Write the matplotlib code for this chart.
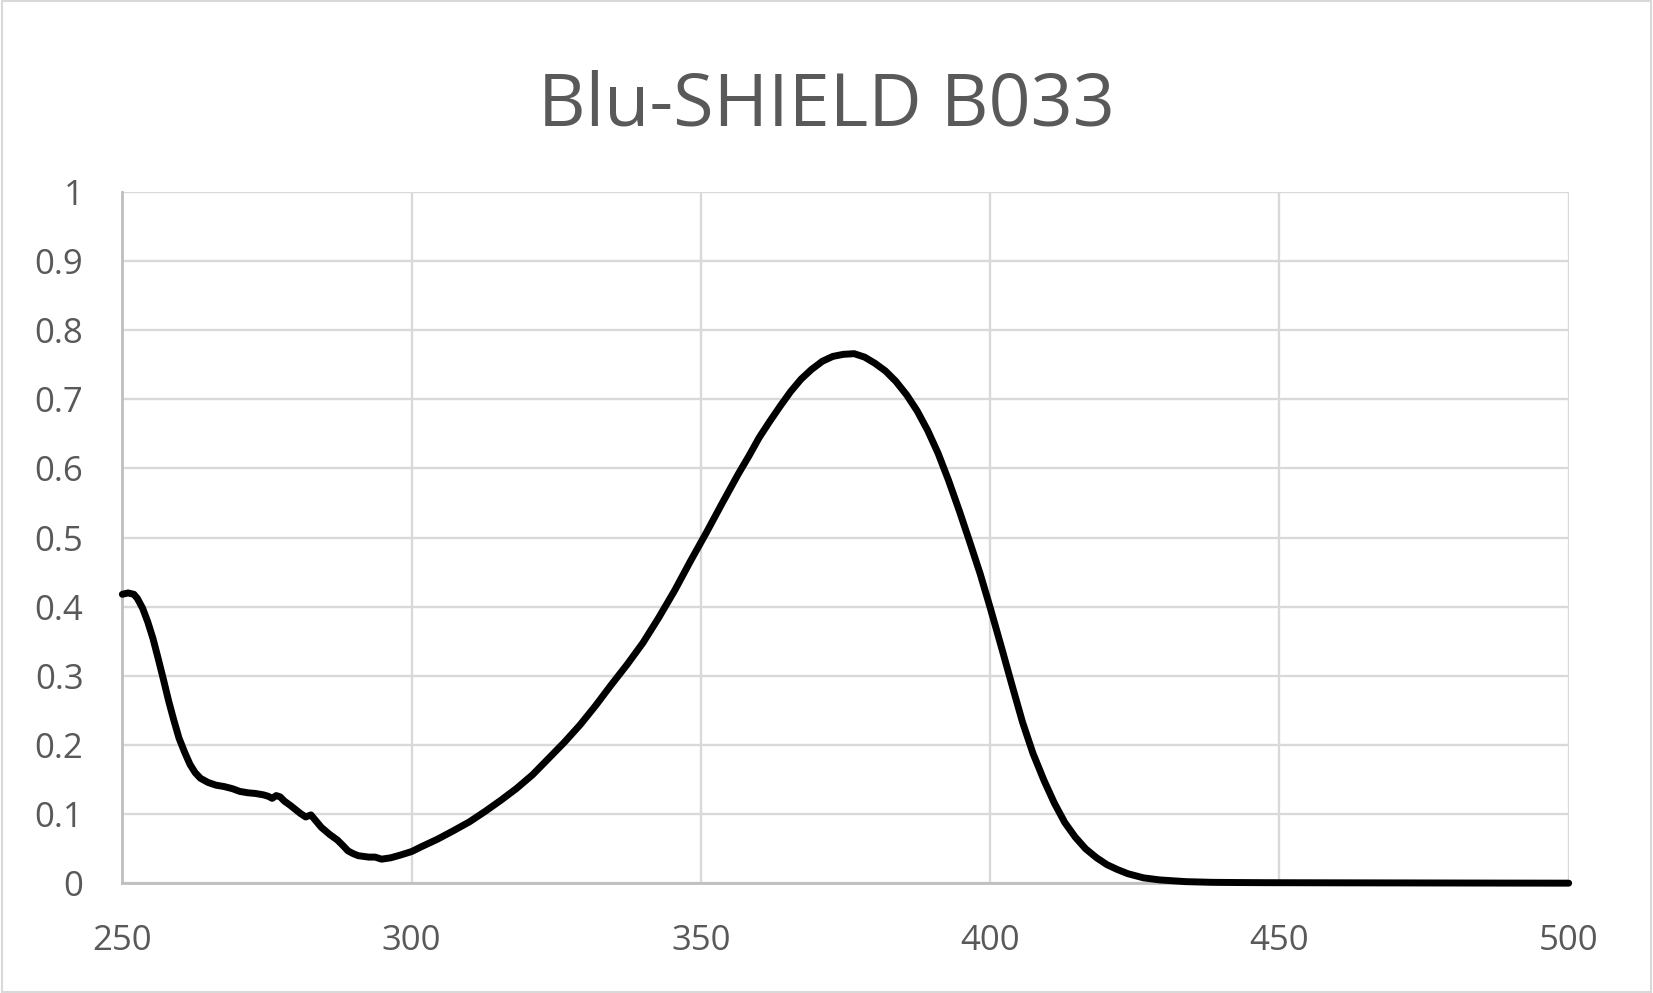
import numpy as np
import matplotlib
matplotlib.use("Agg")
import matplotlib.pyplot as plt
from matplotlib.patches import Rectangle

# absorbance spectrum
wavelength = [250, 251, 252, 252.6, 253.5, 254.4, 255.3, 256.2, 257.1, 258, 258.9, 259.8, 260.8,
              261.7, 262.6, 263.5, 264.8, 266.2, 267.6, 269, 270.3, 271.7, 273, 274.4, 275.2,
              275.9, 276.6, 277.3, 278, 279, 279.9, 280.8, 281.7, 282.6, 283.5, 284.4, 285.8,
              287.2, 288.1, 289, 289.9, 290.8, 291.7, 292.6, 293.7, 294.8, 296.4, 298.1,
              300, 301.7, 304.5, 307.2, 310, 312.7, 315.4, 318.1, 320.9, 323.6, 326.4, 329.1,
              331.8, 334.5, 337.3, 340, 342.7, 345.5, 348.2, 351, 353.7, 356.4, 358.3, 360.1,
              361.9, 363.7, 365.5, 367.3, 369.1, 371, 372.8, 374.6, 376.5, 378.3, 380.1, 381.9,
              383.7, 385.6, 387.4, 389.2, 391, 392.8, 394.7, 396.5, 398.3, 400.1, 402, 403.8,
              405.6, 407.4, 409.3, 411.1, 412.9, 414.7, 416.5, 418.4, 420.2, 422, 423.8, 426.5,
              429.3, 433.8, 438.4, 443, 447.5, 460, 475, 490, 500]
absorbance = [0.418, 0.420, 0.418, 0.412, 0.398, 0.378, 0.354, 0.325, 0.295, 0.264, 0.236, 0.210,
              0.189, 0.172, 0.160, 0.152, 0.146, 0.142, 0.140, 0.137, 0.133, 0.131, 0.130, 0.128,
              0.126, 0.123, 0.127, 0.125, 0.119, 0.113, 0.107, 0.101, 0.096, 0.099, 0.090,
              0.081, 0.071, 0.0625, 0.055, 0.047, 0.043, 0.040, 0.039, 0.038, 0.038, 0.035,
              0.037, 0.041, 0.046, 0.053, 0.064, 0.076, 0.089, 0.104, 0.120, 0.137, 0.157,
              0.180, 0.204, 0.229, 0.257, 0.287, 0.317, 0.348, 0.384, 0.424, 0.466, 0.508,
              0.550, 0.591, 0.618, 0.645, 0.668, 0.690, 0.711, 0.729, 0.743, 0.755, 0.762,
              0.765, 0.766, 0.761, 0.752, 0.741, 0.726, 0.706, 0.683, 0.655, 0.622, 0.583,
              0.538, 0.493, 0.447, 0.396, 0.340, 0.286, 0.233, 0.188, 0.149, 0.116, 0.088,
              0.067, 0.050, 0.037, 0.027, 0.020, 0.014, 0.008, 0.005, 0.0025, 0.0015, 0.0012,
              0.001, 0.0008, 0.0006, 0.0004, 0.0003]

x_ticks = [250, 300, 350, 400, 450, 500]
y_ticks = [0, 0.1, 0.2, 0.3, 0.4, 0.5, 0.6, 0.7, 0.8, 0.9, 1]
y_labels = ["0", "0.1", "0.2", "0.3", "0.4", "0.5", "0.6", "0.7", "0.8", "0.9", "1"]

TEXT = "#595959"
GRID = "#d9d9d9"
AXIS = "#bfbfbf"

plt.rcParams["font.family"] = ["Open Sans", "DejaVu Sans"]

fig = plt.figure(figsize=(16.53, 9.93), dpi=100)
ax = fig.add_axes([0.074, 0.1104, 0.875, 0.6964])

ax.plot(wavelength, absorbance, color="black", lw=5, solid_capstyle="round",
        solid_joinstyle="round", clip_on=False, zorder=3)

ax.set_xlim(250, 500)
ax.set_ylim(0, 1)
ax.set_xticks(x_ticks)
ax.set_yticks(y_ticks)
ax.set_yticklabels(y_labels)
ax.grid(True, color=GRID, lw=1.7, zorder=0)
ax.set_axisbelow(True)
ax.tick_params(length=0, labelsize=25, labelcolor=TEXT)
ax.tick_params(axis="y", pad=28)
ax.tick_params(axis="x", pad=29)

for s in ["top", "right"]:
    ax.spines[s].set_visible(False)
for s in ["left", "bottom"]:
    ax.spines[s].set_color(AXIS)
    ax.spines[s].set_linewidth(2)

fig.text(0.5, 0.893, "Blu-SHIELD B033", ha="center", va="center",
         fontsize=53, color=TEXT)

fig.patches.append(Rectangle((0.001, 0.001), 0.998, 0.998, transform=fig.transFigure,
                             fill=False, edgecolor=GRID, lw=1.5))

plt.savefig("out.png", dpi=100)
plt.close()
